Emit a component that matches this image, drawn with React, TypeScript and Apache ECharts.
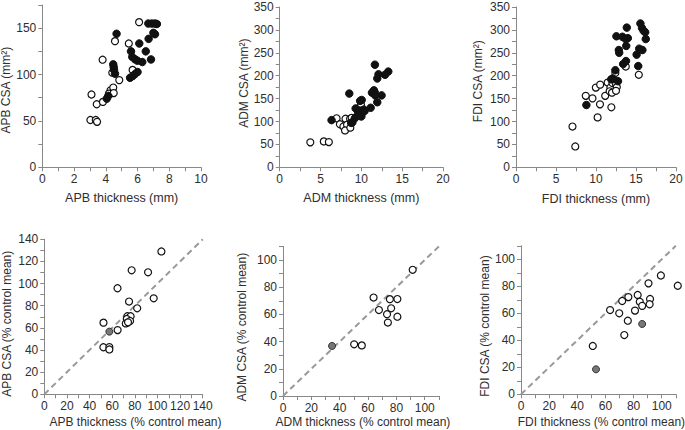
import React, { useEffect, useRef } from "react";
import * as echarts from "echarts";

// ---- Data ----
const apbOpen: number[][] = [
  [6.1, 156.5], [4.58, 136], [5.45, 133.5], [3.8, 116], [4.41, 102], [5.69, 105], [4.85, 94],
  [3.1, 78.5], [3.43, 68], [3.82, 70.5], [4.3, 83], [4.47, 86], [4.2, 79.5], [4.5, 80],
  [3.03, 51], [3.37, 51], [3.45, 49],
];
const apbFilled: number[][] = [
  [4.68, 144], [4.47, 111], [4.5, 108], [4.52, 105], [4.58, 101], [4.06, 74], [4.16, 77],
  [6.68, 155], [6.9, 155], [7.1, 155], [7.22, 154.5], [7.0, 145], [7.1, 143.5], [6.7, 138.5],
  [6.11, 133.5], [6.52, 125], [5.59, 125], [5.67, 119], [5.84, 116.5], [5.99, 115], [6.3, 113.5],
  [6.85, 116.3], [5.53, 96.5], [5.69, 98.3], [5.84, 100.5], [6.0, 102.7],
];
const admOpen: number[][] = [
  [3.75, 54.5], [5.4, 56.5], [6.02, 55], [6.97, 107], [7.37, 94], [8.06, 106], [8.62, 106],
  [8.82, 108], [7.8, 89], [8.25, 93], [8.0, 80.5], [8.65, 86.5], [9.95, 137],
];
const admFilled: number[][] = [
  [11.66, 224], [13.3, 209], [12.9, 202], [12.1, 203], [11.95, 194], [8.52, 161], [11.54, 168],
  [11.66, 163], [11.3, 163], [12.48, 157], [11.7, 157], [11.95, 142], [11.14, 130], [10.04, 147],
  [9.85, 145], [9.3, 128.5], [6.35, 103], [8.9, 98], [8.75, 97], [9.2, 107], [9.6, 118],
  [9.8, 124], [10.0, 115], [10.1, 121], [10.3, 126], [10.0, 111], [9.7, 113], [10.4, 123],
];
const fdiOpen: number[][] = [
  [7.06, 89], [7.41, 45.5], [8.72, 156], [9.56, 150.5], [9.98, 174], [10.52, 180.5], [10.5, 137.5],
  [10.2, 109], [11.15, 156], [11.92, 131], [11.45, 185], [11.8, 174], [11.7, 166], [12.05, 184],
  [12.0, 163], [12.42, 206], [12.5, 181], [12.6, 175], [12.5, 167], [13.72, 220], [15.35, 202],
];
const fdiFilled: number[][] = [
  [8.8, 136], [11.9, 192], [12.1, 194], [12.42, 212], [12.75, 188], [12.55, 286], [13.3, 285],
  [13.85, 305], [13.7, 280], [13.98, 282], [12.85, 256], [12.9, 250], [13.78, 265], [13.4, 225.5],
  [13.75, 232], [15.55, 314], [15.75, 304], [15.95, 298], [16.15, 295], [16.22, 280], [15.4, 259],
  [15.8, 256], [15.08, 246], [15.28, 221],
];
const apbPctOpen: number[][] = [
  [103.5, 129], [77.2, 112], [91.7, 110.2], [64.7, 95.8], [74.9, 83.8], [96.7, 86.7], [82.1, 77.7],
  [73.4, 70.5], [76.3, 70.5], [72.9, 68], [75.8, 66.2], [72, 64], [74, 65], [52.3, 64.7],
  [64.8, 58], [52.2, 42.5], [57.5, 42.6], [57.5, 40.5],
];
const apbPctGray: number[][] = [[57.5, 56.6]];
const admPctOpen: number[][] = [
  [91.5, 92.8], [63.9, 72.4], [75.4, 71.2], [80.7, 71.3], [67.7, 63.2], [76.3, 64.5], [73.4, 60.1],
  [80.7, 58.3], [74, 54], [50.2, 38], [55.6, 37.2],
];
const admPctGray: number[][] = [[34.6, 36.8]];
const fdiPctOpen: number[][] = [
  [99.4, 88], [111.4, 80.4], [90.6, 82.2], [82.9, 73.6], [76.3, 72], [71.9, 69.1], [84.4, 68.6],
  [91.7, 70.6], [91.4, 66.7], [86.1, 65.5], [63.3, 62.4], [69.8, 60], [81, 62], [75.9, 54.5],
  [73.4, 43.9], [51, 35.8],
];
const fdiPctGray: number[][] = [[86.1, 52.1], [53.3, 18.5]];

const xNames = [
  "APB thickness (mm)", "ADM thickness (mm)", "FDI thickness (mm)",
  "APB thickness (% control mean)", "ADM thickness (% control mean)", "FDI thickness (% control mean)",
];
const yNames = [
  "APB CSA (mm²)", "ADM CSA (mm²)", "FDI CSA (mm²)",
  "APB CSA (% control mean)", "ADM CSA (% control mean)", "FDI CSA (% control mean)",
];
// [min, max, tick interval, label step]
const xScales = [[0, 10, 1, 2], [0, 20, 2.5, 5], [0, 20, 2.5, 5], [0, 140, 10, 20], [0, 110, 10, 20], [0, 110, 10, 20]];
const yScales = [[0, 175, 25, 50], [0, 350, 25, 50], [0, 350, 25, 50], [0, 140, 10, 20], [0, 110, 10, 20], [0, 110, 10, 20]];
const identityMax = [140, 110, 110];

const grids = [
  { left: 42.3, top: 5, width: 158.7, height: 162.3 },
  { left: 279.7, top: 7, width: 163.3, height: 160.3 },
  { left: 516, top: 7, width: 160, height: 160.3 },
  { left: 44.3, top: 239.3, width: 158.4, height: 155 },
  { left: 283, top: 246.4, width: 155.9, height: 149.6 },
  { left: 521, top: 245.8, width: 154.8, height: 148.5 },
];
const xGaps = [24, 24, 25, 22, 20, 22];
const yGaps = [29, 30, 32, 31, 35, 30];
const xNamePad = [[0, 0, 0, 0], [0, 0, 0, 0], [0, 0, 0, 0], [0, 0, 0, 24], [0, 0, 0, 4], [0, 0, 0, 6]];
const yNamePad = [[0, 8, 0, 0], [0, 0, 0, 8], [0, 0, 0, 12], [0, 14, 0, 0], [0, 12, 0, 0], [0, 12, 0, 0]];

const FONT = "Liberation Sans";
const TXT = "#2e2e2e";
const AX = "#888";

function makeAxis(i: number, isX: boolean) {
  const [min, max, interval, step] = isX ? xScales[i] : yScales[i];
  return {
    type: "value",
    gridIndex: i,
    min,
    max,
    interval,
    name: isX ? xNames[i] : yNames[i],
    nameLocation: "middle",
    nameGap: isX ? xGaps[i] : yGaps[i],
    nameTextStyle: {
      color: TXT,
      fontSize: isX ? (i < 3 ? 12.5 : 12) : 12,
      fontFamily: FONT,
      padding: isX ? xNamePad[i] : yNamePad[i],
    },
    splitLine: { show: false },
    axisLine: { show: true, onZero: false, lineStyle: { color: AX, width: 1 } },
    axisTick: { show: true, length: 4, lineStyle: { color: AX, width: 1 } },
    axisLabel: {
      color: TXT,
      fontSize: 12,
      fontFamily: FONT,
      margin: 6,
      showMinLabel: true,
      showMaxLabel: true,
      formatter: (v: number) => {
        const r = v / step;
        return Math.abs(r - Math.round(r)) < 1e-6 ? String(v) : "";
      },
    },
  };
}

const openStyle = { color: "#fff", borderColor: "#111", borderWidth: 1.2, opacity: 1 };
const filledStyle = { color: "#111", borderColor: "#111", borderWidth: 1, opacity: 1 };
const grayStyle = { color: "#777", borderColor: "#333", borderWidth: 1, opacity: 1 };

function scatter(i: number, data: number[][], style: any, size = 7) {
  return {
    type: "scatter",
    xAxisIndex: i,
    yAxisIndex: i,
    data,
    symbolSize: size,
    clip: false,
    itemStyle: style,
    z: 3,
  };
}

export default function App() {
  const ref = useRef<HTMLDivElement>(null);
  useEffect(() => {
    if (!ref.current) return;
    const chart = echarts.init(ref.current, undefined, { renderer: "svg" });
    const series: any[] = [
      scatter(0, apbOpen, openStyle),
      scatter(0, apbFilled, filledStyle, 7.5),
      scatter(1, admOpen, openStyle),
      scatter(1, admFilled, filledStyle, 7.5),
      scatter(2, fdiOpen, openStyle),
      scatter(2, fdiFilled, filledStyle, 7.5),
      scatter(3, apbPctOpen, openStyle),
      scatter(3, apbPctGray, grayStyle),
      scatter(4, admPctOpen, openStyle),
      scatter(4, admPctGray, grayStyle),
      scatter(5, fdiPctOpen, openStyle),
      scatter(5, fdiPctGray, grayStyle),
    ];
    identityMax.forEach((m, k) => {
      series.push({
        type: "line",
        xAxisIndex: k + 3,
        yAxisIndex: k + 3,
        data: [[0, 0], [m, m]],
        symbol: "none",
        silent: true,
        z: 1,
        lineStyle: { color: "#999", width: 2, type: [6, 4] },
      });
    });
    chart.setOption({
      animation: false,
      backgroundColor: "#fff",
      grid: grids.map((g) => ({ ...g, containLabel: false, outerBoundsMode: "none" })),
      xAxis: grids.map((_, i) => makeAxis(i, true)),
      yAxis: grids.map((_, i) => makeAxis(i, false)),
      series,
    } as any);
    return () => chart.dispose();
  }, []);
  return (
    <div
      ref={ref}
      style={{ position: "absolute", left: 0, top: 0, width: 685, height: 430, background: "#fff" }}
    />
  );
}
